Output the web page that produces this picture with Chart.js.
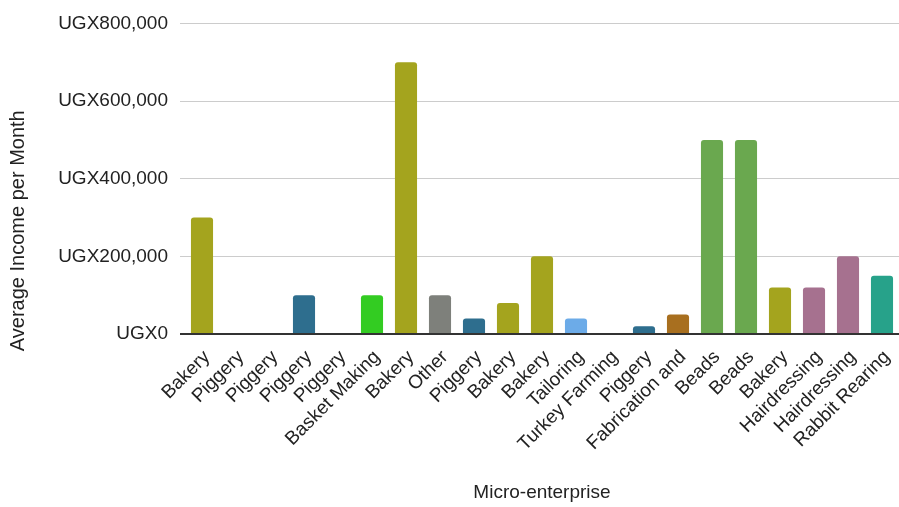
<!DOCTYPE html>
<html>
<head>
<meta charset="utf-8">
<script src="https://cdn.jsdelivr.net/npm/chart.js@4/dist/chart.umd.min.js"></script>
<style>
  html, body { margin: 0; padding: 0; background: #ffffff; }
  #wrap { width: 899px; height: 507px; position: relative; }
</style>
</head>
<body>
<div id="wrap"><canvas id="chart"></canvas></div>
<script>
// Micro-enterprise of each respondent, in survey order
const enterprises = [
  'Bakery', 'Piggery', 'Piggery', 'Piggery', 'Piggery', 'Basket Making',
  'Bakery', 'Other', 'Piggery', 'Bakery', 'Bakery', 'Tailoring',
  'Turkey Farming', 'Piggery', 'Fabrication and', 'Beads', 'Beads',
  'Bakery', 'Hairdressing', 'Hairdressing', 'Rabbit Rearing'
];

// Average income per month (UGX)
const avgIncome = [
  300000, 0, 0, 100000, 0, 100000,
  700000, 100000, 40000, 80000, 200000, 40000,
  0, 20000, 50000, 500000, 500000,
  120000, 120000, 200000, 150000
];

// Y axis ticks (UGX)
const yTicks = [0, 200000, 400000, 600000, 800000];

const yTitle = 'Average Income per Month';
const xTitle = 'Micro-enterprise';

// One colour per type of enterprise
const typeColours = {
  'Bakery': '#a4a41e',
  'Piggery': '#2e6e8e',
  'Basket Making': '#33cc22',
  'Other': '#7e807b',
  'Tailoring': '#6cabe8',
  'Turkey Farming': '#8e6ac0',
  'Fabrication and': '#a86f1f',
  'Beads': '#6aa84f',
  'Hairdressing': '#a6718f',
  'Rabbit Rearing': '#27a28a'
};

const fontFamily = '"Liberation Sans", Arial, sans-serif';
const textColour = '#222222';

const fmtUGX = v => 'UGX' + Number(v).toLocaleString('en-US');

// Vertical axis title, centred a little below the middle of the plot
const yTitlePlugin = {
  id: 'yTitle',
  afterDraw(chart) {
    const { ctx, chartArea } = chart;
    const cy = (chartArea.top + chartArea.bottom) / 2 + 52;
    ctx.save();
    ctx.translate(18, cy);
    ctx.rotate(-Math.PI / 2);
    ctx.font = '20px ' + fontFamily;
    ctx.fillStyle = textColour;
    ctx.textAlign = 'center';
    ctx.textBaseline = 'middle';
    ctx.fillText(yTitle, 0, 0);
    ctx.restore();
  }
};

new Chart(document.getElementById('chart'), {
  type: 'bar',
  data: {
    labels: enterprises,
    datasets: [{
      label: yTitle,
      data: avgIncome,
      backgroundColor: enterprises.map(e => typeColours[e]),
      borderRadius: { topLeft: 3, topRight: 3, bottomLeft: 0, bottomRight: 0 },
      borderSkipped: 'bottom',
      barPercentage: 0.65,
      categoryPercentage: 1.0
    }]
  },
  plugins: [yTitlePlugin],
  options: {
    responsive: true,
    maintainAspectRatio: false,
    animation: false,
    layout: { padding: { top: 21, right: 0, bottom: 0, left: 0 } },
    plugins: {
      legend: { display: false },
      tooltip: { enabled: false }
    },
    scales: {
      x: {
        grid: { display: false, drawTicks: false },
        border: { display: false },
        ticks: {
          autoSkip: false,
          minRotation: 45,
          maxRotation: 45,
          padding: 12,
          labelOffset: 5,
          color: textColour,
          font: { family: fontFamily, size: 19 }
        },
        title: {
          display: true,
          text: xTitle,
          color: textColour,
          font: { family: fontFamily, size: 19 },
          padding: { top: 0, bottom: 3 }
        },
        afterFit(scale) {
          scale.height = 173;
          scale.paddingLeft = 0;
          scale.paddingRight = 0;
        }
      },
      y: {
        min: 0,
        max: 800000,
        afterBuildTicks(scale) { scale.ticks = yTicks.map(v => ({ value: v })); },
        grid: {
          color: ctx => ctx.tick && ctx.tick.value === 0 ? '#333333' : '#cccccc',
          lineWidth: ctx => ctx.tick && ctx.tick.value === 0 ? 2 : 1,
          tickLength: 5,
          drawTicks: true
        },
        border: { display: false },
        ticks: {
          padding: 12,
          color: textColour,
          font: { family: fontFamily, size: 19 },
          callback: v => fmtUGX(v)
        },
        title: { display: false },
        afterFit(scale) { scale.width = 185; }
      }
    }
  }
});
</script>
</body>
</html>
